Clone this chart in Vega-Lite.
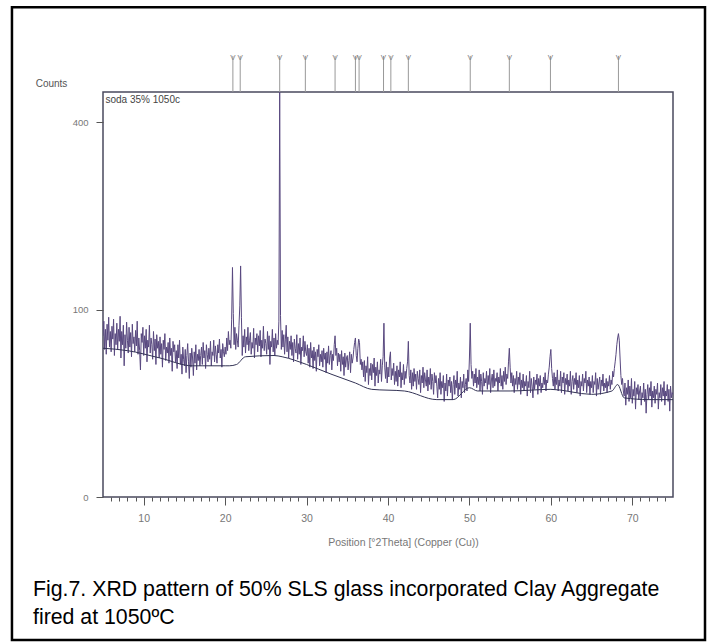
{
  "$schema": "https://vega.github.io/schema/vega-lite/v6.json",
  "width": 570,
  "height": 405,
  "autosize": "none",
  "padding": {"left": 103, "top": 92, "right": 34, "bottom": 145},
  "background": "white",
  "config": {
    "view": {"stroke": "#4a4a5e", "strokeWidth": 1.5},
    "axis": {"grid": false, "domain": false, "labelFont": "Liberation Sans", "titleFont": "Liberation Sans", "labelColor": "#777", "titleColor": "#777", "tickColor": "#555", "titleFontWeight": "normal"}
  },
  "title": {
    "text": ["Fig.7. XRD pattern of 50% SLS glass incorporated Clay Aggregate", "fired at 1050ºC"],
    "orient": "bottom", "anchor": "start", "frame": "group", "dx": -70, "offset": -62,
    "font": "Liberation Sans", "fontSize": 21.3, "fontWeight": "normal", "color": "black", "lineHeight": 28
  },
  "datasets": {
    "frame": [{"x1": -6.18, "x2": 78.93, "y1": -58.2, "y2": 683}],
    "markers": [{"t": 20.95}, {"t": 21.85}, {"t": 26.7}, {"t": 29.85}, {"t": 33.5}, {"t": 36.0}, {"t": 36.45}, {"t": 39.45}, {"t": 40.35}, {"t": 42.5}, {"t": 50.1}, {"t": 54.9}, {"t": 59.95}, {"t": 68.3}],
    "bg": [{"t":5,"c":63},{"t":8,"c":61},{"t":12,"c":55},{"t":16,"c":49},{"t":20,"c":49},{"t":20.5,"c":49},{"t":21.4,"c":50},{"t":22.5,"c":56},{"t":26,"c":57},{"t":27,"c":56},{"t":30,"c":50},{"t":33,"c":43},{"t":36,"c":37},{"t":38,"c":33},{"t":42,"c":32},{"t":46,"c":27},{"t":48,"c":27},{"t":50,"c":34},{"t":51,"c":32},{"t":55,"c":32},{"t":60,"c":33},{"t":65,"c":30},{"t":67.5,"c":32},{"t":68.2,"c":36},{"t":69,"c":28},{"t":72,"c":27},{"t":75,"c":27}],
    "scan": [
{"t":5.0,"c":74},{"t":5.1,"c":88},{"t":5.2,"c":62},{"t":5.3,"c":80},{"t":5.4,"c":58},{"t":5.5,"c":85},{"t":5.6,"c":70},{"t":5.7,"c":92},{"t":5.8,"c":64},{"t":5.9,"c":78},
{"t":6.0,"c":60},{"t":6.1,"c":83},{"t":6.2,"c":71},{"t":6.3,"c":90},{"t":6.4,"c":57},{"t":6.5,"c":76},{"t":6.6,"c":66},{"t":6.7,"c":86},{"t":6.8,"c":62},{"t":6.9,"c":80},
{"t":7.0,"c":69},{"t":7.1,"c":93},{"t":7.2,"c":55},{"t":7.3,"c":78},{"t":7.4,"c":66},{"t":7.5,"c":84},{"t":7.6,"c":49},{"t":7.7,"c":75},{"t":7.8,"c":63},{"t":7.9,"c":87},
{"t":8.0,"c":70},{"t":8.1,"c":59},{"t":8.2,"c":82},{"t":8.3,"c":64},{"t":8.4,"c":77},{"t":8.5,"c":56},{"t":8.6,"c":85},{"t":8.7,"c":67},{"t":8.8,"c":73},{"t":8.9,"c":60},
{"t":9.0,"c":79},{"t":9.1,"c":65},{"t":9.2,"c":88},{"t":9.3,"c":58},{"t":9.4,"c":72},{"t":9.5,"c":61},{"t":9.6,"c":46},{"t":9.7,"c":76},{"t":9.8,"c":68},{"t":9.9,"c":82},
{"t":10.0,"c":57},{"t":10.1,"c":74},{"t":10.2,"c":63},{"t":10.3,"c":80},{"t":10.4,"c":52},{"t":10.5,"c":70},{"t":10.6,"c":64},{"t":10.7,"c":84},{"t":10.8,"c":59},{"t":10.9,"c":72},
{"t":11.0,"c":66},{"t":11.1,"c":54},{"t":11.2,"c":78},{"t":11.3,"c":61},{"t":11.4,"c":71},{"t":11.5,"c":50},{"t":11.6,"c":75},{"t":11.7,"c":63},{"t":11.8,"c":69},{"t":11.9,"c":55},
{"t":12.0,"c":73},{"t":12.1,"c":58},{"t":12.2,"c":67},{"t":12.3,"c":48},{"t":12.4,"c":70},{"t":12.5,"c":62},{"t":12.6,"c":76},{"t":12.7,"c":53},{"t":12.8,"c":64},{"t":12.9,"c":59},
{"t":13.0,"c":68},{"t":13.1,"c":51},{"t":13.2,"c":72},{"t":13.3,"c":57},{"t":13.4,"c":63},{"t":13.5,"c":45},{"t":13.6,"c":69},{"t":13.7,"c":60},{"t":13.8,"c":66},{"t":13.9,"c":52},
{"t":14.0,"c":61},{"t":14.1,"c":47},{"t":14.2,"c":66},{"t":14.3,"c":55},{"t":14.4,"c":70},{"t":14.5,"c":50},{"t":14.6,"c":58},{"t":14.7,"c":43},{"t":14.8,"c":64},{"t":14.9,"c":54},
{"t":15.0,"c":49},{"t":15.1,"c":62},{"t":15.2,"c":44},{"t":15.3,"c":57},{"t":15.4,"c":67},{"t":15.5,"c":52},{"t":15.6,"c":40},{"t":15.7,"c":59},{"t":15.8,"c":48},{"t":15.9,"c":63},
{"t":16.0,"c":55},{"t":16.1,"c":42},{"t":16.2,"c":60},{"t":16.3,"c":51},{"t":16.4,"c":66},{"t":16.5,"c":46},{"t":16.6,"c":58},{"t":16.7,"c":53},{"t":16.8,"c":62},{"t":16.9,"c":49},
{"t":17.0,"c":57},{"t":17.1,"c":64},{"t":17.2,"c":50},{"t":17.3,"c":68},{"t":17.4,"c":55},{"t":17.5,"c":61},{"t":17.6,"c":47},{"t":17.7,"c":66},{"t":17.8,"c":58},{"t":17.9,"c":52},
{"t":18.0,"c":63},{"t":18.1,"c":54},{"t":18.2,"c":69},{"t":18.3,"c":49},{"t":18.4,"c":60},{"t":18.5,"c":57},{"t":18.6,"c":70},{"t":18.7,"c":52},{"t":18.8,"c":65},{"t":18.9,"c":58},
{"t":19.0,"c":51},{"t":19.1,"c":66},{"t":19.2,"c":59},{"t":19.3,"c":71},{"t":19.4,"c":55},{"t":19.5,"c":62},{"t":19.6,"c":48},{"t":19.7,"c":67},{"t":19.8,"c":60},{"t":19.9,"c":56},
{"t":20.0,"c":64},{"t":20.1,"c":58},{"t":20.2,"c":72},{"t":20.3,"c":61},{"t":20.4,"c":78},{"t":20.5,"c":66},{"t":20.6,"c":70},{"t":20.7,"c":63},{"t":20.8,"c":90},{"t":20.9,"c":150},
{"t":21.0,"c":96},{"t":21.1,"c":66},{"t":21.2,"c":82},{"t":21.3,"c":62},{"t":21.4,"c":76},{"t":21.5,"c":70},{"t":21.6,"c":64},{"t":21.7,"c":84},{"t":21.8,"c":104},{"t":21.9,"c":152},
{"t":22.0,"c":92},{"t":22.1,"c":57},{"t":22.2,"c":74},{"t":22.3,"c":64},{"t":22.4,"c":80},{"t":22.5,"c":59},{"t":22.6,"c":73},{"t":22.7,"c":66},{"t":22.8,"c":82},{"t":22.9,"c":61},
{"t":23.0,"c":70},{"t":23.1,"c":77},{"t":23.2,"c":58},{"t":23.3,"c":68},{"t":23.4,"c":63},{"t":23.5,"c":81},{"t":23.6,"c":55},{"t":23.7,"c":72},{"t":23.8,"c":66},{"t":23.9,"c":76},
{"t":24.0,"c":60},{"t":24.1,"c":74},{"t":24.2,"c":65},{"t":24.3,"c":79},{"t":24.4,"c":56},{"t":24.5,"c":70},{"t":24.6,"c":63},{"t":24.7,"c":83},{"t":24.8,"c":61},{"t":24.9,"c":71},
{"t":25.0,"c":67},{"t":25.1,"c":58},{"t":25.2,"c":78},{"t":25.3,"c":62},{"t":25.4,"c":74},{"t":25.5,"c":50},{"t":25.6,"c":69},{"t":25.7,"c":64},{"t":25.8,"c":80},{"t":25.9,"c":60},
{"t":26.0,"c":72},{"t":26.1,"c":57},{"t":26.2,"c":76},{"t":26.3,"c":63},{"t":26.4,"c":70},{"t":26.5,"c":66},{"t":26.6,"c":88},{"t":26.7,"c":470},{"t":26.8,"c":94},{"t":26.9,"c":62},
{"t":27.0,"c":79},{"t":27.1,"c":64},{"t":27.2,"c":75},{"t":27.3,"c":58},{"t":27.4,"c":71},{"t":27.5,"c":84},{"t":27.6,"c":60},{"t":27.7,"c":73},{"t":27.8,"c":55},{"t":27.9,"c":69},
{"t":28.0,"c":62},{"t":28.1,"c":74},{"t":28.2,"c":57},{"t":28.3,"c":68},{"t":28.4,"c":52},{"t":28.5,"c":71},{"t":28.6,"c":63},{"t":28.7,"c":59},{"t":28.8,"c":75},{"t":28.9,"c":54},
{"t":29.0,"c":67},{"t":29.1,"c":58},{"t":29.2,"c":72},{"t":29.3,"c":50},{"t":29.4,"c":64},{"t":29.5,"c":61},{"t":29.6,"c":74},{"t":29.7,"c":56},{"t":29.8,"c":69},{"t":29.9,"c":60},
{"t":30.0,"c":57},{"t":30.1,"c":66},{"t":30.2,"c":51},{"t":30.3,"c":63},{"t":30.4,"c":48},{"t":30.5,"c":68},{"t":30.6,"c":55},{"t":30.7,"c":61},{"t":30.8,"c":47},{"t":30.9,"c":64},
{"t":31.0,"c":53},{"t":31.1,"c":60},{"t":31.2,"c":45},{"t":31.3,"c":62},{"t":31.4,"c":56},{"t":31.5,"c":66},{"t":31.6,"c":49},{"t":31.7,"c":58},{"t":31.8,"c":52},{"t":31.9,"c":61},
{"t":32.0,"c":48},{"t":32.1,"c":63},{"t":32.2,"c":54},{"t":32.3,"c":59},{"t":32.4,"c":44},{"t":32.5,"c":60},{"t":32.6,"c":51},{"t":32.7,"c":65},{"t":32.8,"c":50},{"t":32.9,"c":57},
{"t":33.0,"c":61},{"t":33.1,"c":46},{"t":33.2,"c":58},{"t":33.3,"c":53},{"t":33.4,"c":66},{"t":33.5,"c":74},{"t":33.6,"c":57},{"t":33.7,"c":63},{"t":33.8,"c":49},{"t":33.9,"c":59},
{"t":34.0,"c":52},{"t":34.1,"c":58},{"t":34.2,"c":45},{"t":34.3,"c":61},{"t":34.4,"c":50},{"t":34.5,"c":56},{"t":34.6,"c":42},{"t":34.7,"c":59},{"t":34.8,"c":48},{"t":34.9,"c":55},
{"t":35.0,"c":57},{"t":35.1,"c":46},{"t":35.2,"c":53},{"t":35.3,"c":60},{"t":35.4,"c":44},{"t":35.5,"c":58},{"t":35.6,"c":51},{"t":35.7,"c":55},{"t":35.8,"c":62},{"t":35.9,"c":68},
{"t":36.0,"c":72},{"t":36.1,"c":57},{"t":36.2,"c":52},{"t":36.3,"c":63},{"t":36.4,"c":71},{"t":36.5,"c":68},{"t":36.6,"c":50},{"t":36.7,"c":54},{"t":36.8,"c":46},{"t":36.9,"c":52},
{"t":37.0,"c":41},{"t":37.1,"c":53},{"t":37.2,"c":38},{"t":37.3,"c":49},{"t":37.4,"c":44},{"t":37.5,"c":56},{"t":37.6,"c":36},{"t":37.7,"c":47},{"t":37.8,"c":42},{"t":37.9,"c":51},
{"t":38.0,"c":39},{"t":38.1,"c":50},{"t":38.2,"c":44},{"t":38.3,"c":55},{"t":38.4,"c":35},{"t":38.5,"c":48},{"t":38.6,"c":42},{"t":38.7,"c":52},{"t":38.8,"c":37},{"t":38.9,"c":46},
{"t":39.0,"c":43},{"t":39.1,"c":54},{"t":39.2,"c":38},{"t":39.3,"c":49},{"t":39.4,"c":56},{"t":39.5,"c":86},{"t":39.6,"c":48},{"t":39.7,"c":40},{"t":39.8,"c":52},{"t":39.9,"c":37},
{"t":40.0,"c":48},{"t":40.1,"c":41},{"t":40.2,"c":55},{"t":40.3,"c":60},{"t":40.4,"c":39},{"t":40.5,"c":47},{"t":40.6,"c":42},{"t":40.7,"c":51},{"t":40.8,"c":36},{"t":40.9,"c":45},
{"t":41.0,"c":38},{"t":41.1,"c":49},{"t":41.2,"c":35},{"t":41.3,"c":46},{"t":41.4,"c":41},{"t":41.5,"c":52},{"t":41.6,"c":34},{"t":41.7,"c":44},{"t":41.8,"c":39},{"t":41.9,"c":50},
{"t":42.0,"c":36},{"t":42.1,"c":45},{"t":42.2,"c":40},{"t":42.3,"c":47},{"t":42.4,"c":52},{"t":42.5,"c":69},{"t":42.6,"c":42},{"t":42.7,"c":37},{"t":42.8,"c":46},{"t":42.9,"c":33},
{"t":43.0,"c":44},{"t":43.1,"c":35},{"t":43.2,"c":47},{"t":43.3,"c":38},{"t":43.4,"c":43},{"t":43.5,"c":33},{"t":43.6,"c":45},{"t":43.7,"c":40},{"t":43.8,"c":36},{"t":43.9,"c":46},
{"t":44.0,"c":31},{"t":44.1,"c":42},{"t":44.2,"c":37},{"t":44.3,"c":48},{"t":44.4,"c":34},{"t":44.5,"c":44},{"t":44.6,"c":39},{"t":44.7,"c":35},{"t":44.8,"c":46},{"t":44.9,"c":32},
{"t":45.0,"c":41},{"t":45.1,"c":36},{"t":45.2,"c":47},{"t":45.3,"c":33},{"t":45.4,"c":43},{"t":45.5,"c":38},{"t":45.6,"c":30},{"t":45.7,"c":44},{"t":45.8,"c":37},{"t":45.9,"c":42},
{"t":46.0,"c":35},{"t":46.1,"c":28},{"t":46.2,"c":40},{"t":46.3,"c":33},{"t":46.4,"c":44},{"t":46.5,"c":30},{"t":46.6,"c":38},{"t":46.7,"c":34},{"t":46.8,"c":42},{"t":46.9,"c":26},
{"t":47.0,"c":37},{"t":47.1,"c":32},{"t":47.2,"c":43},{"t":47.3,"c":29},{"t":47.4,"c":39},{"t":47.5,"c":35},{"t":47.6,"c":41},{"t":47.7,"c":31},{"t":47.8,"c":38},{"t":47.9,"c":27},
{"t":48.0,"c":36},{"t":48.1,"c":42},{"t":48.2,"c":30},{"t":48.3,"c":39},{"t":48.4,"c":34},{"t":48.5,"c":45},{"t":48.6,"c":29},{"t":48.7,"c":37},{"t":48.8,"c":33},{"t":48.9,"c":41},
{"t":49.0,"c":28},{"t":49.1,"c":38},{"t":49.2,"c":34},{"t":49.3,"c":43},{"t":49.4,"c":31},{"t":49.5,"c":36},{"t":49.6,"c":40},{"t":49.7,"c":32},{"t":49.8,"c":46},{"t":49.9,"c":38},
{"t":50.0,"c":55},{"t":50.1,"c":86},{"t":50.2,"c":50},{"t":50.3,"c":40},{"t":50.4,"c":45},{"t":50.5,"c":35},{"t":50.6,"c":43},{"t":50.7,"c":37},{"t":50.8,"c":47},{"t":50.9,"c":34},
{"t":51.0,"c":41},{"t":51.1,"c":36},{"t":51.2,"c":46},{"t":51.3,"c":32},{"t":51.4,"c":43},{"t":51.5,"c":38},{"t":51.6,"c":30},{"t":51.7,"c":44},{"t":51.8,"c":35},{"t":51.9,"c":40},
{"t":52.0,"c":37},{"t":52.1,"c":45},{"t":52.2,"c":33},{"t":52.3,"c":42},{"t":52.4,"c":36},{"t":52.5,"c":47},{"t":52.6,"c":31},{"t":52.7,"c":39},{"t":52.8,"c":43},{"t":52.9,"c":34},
{"t":53.0,"c":46},{"t":53.1,"c":35},{"t":53.2,"c":40},{"t":53.3,"c":38},{"t":53.4,"c":44},{"t":53.5,"c":32},{"t":53.6,"c":41},{"t":53.7,"c":37},{"t":53.8,"c":47},{"t":53.9,"c":35},
{"t":54.0,"c":42},{"t":54.1,"c":33},{"t":54.2,"c":45},{"t":54.3,"c":38},{"t":54.4,"c":48},{"t":54.5,"c":36},{"t":54.6,"c":43},{"t":54.7,"c":40},{"t":54.8,"c":52},{"t":54.9,"c":63},
{"t":55.0,"c":48},{"t":55.1,"c":37},{"t":55.2,"c":44},{"t":55.3,"c":35},{"t":55.4,"c":42},{"t":55.5,"c":31},{"t":55.6,"c":40},{"t":55.7,"c":36},{"t":55.8,"c":45},{"t":55.9,"c":33},
{"t":56.0,"c":41},{"t":56.1,"c":36},{"t":56.2,"c":44},{"t":56.3,"c":30},{"t":56.4,"c":39},{"t":56.5,"c":34},{"t":56.6,"c":43},{"t":56.7,"c":32},{"t":56.8,"c":38},{"t":56.9,"c":35},
{"t":57.0,"c":42},{"t":57.1,"c":29},{"t":57.2,"c":38},{"t":57.3,"c":34},{"t":57.4,"c":45},{"t":57.5,"c":31},{"t":57.6,"c":40},{"t":57.7,"c":35},{"t":57.8,"c":28},{"t":57.9,"c":41},
{"t":58.0,"c":33},{"t":58.1,"c":39},{"t":58.2,"c":36},{"t":58.3,"c":43},{"t":58.4,"c":30},{"t":58.5,"c":40},{"t":58.6,"c":35},{"t":58.7,"c":42},{"t":58.8,"c":31},{"t":58.9,"c":37},
{"t":59.0,"c":34},{"t":59.1,"c":41},{"t":59.2,"c":36},{"t":59.3,"c":44},{"t":59.4,"c":32},{"t":59.5,"c":39},{"t":59.6,"c":37},{"t":59.7,"c":43},{"t":59.8,"c":48},{"t":59.9,"c":56},
{"t":60.0,"c":62},{"t":60.1,"c":47},{"t":60.2,"c":40},{"t":60.3,"c":35},{"t":60.4,"c":44},{"t":60.5,"c":33},{"t":60.6,"c":41},{"t":60.7,"c":36},{"t":60.8,"c":46},{"t":60.9,"c":32},
{"t":61.0,"c":39},{"t":61.1,"c":35},{"t":61.2,"c":45},{"t":61.3,"c":31},{"t":61.4,"c":41},{"t":61.5,"c":37},{"t":61.6,"c":44},{"t":61.7,"c":30},{"t":61.8,"c":40},{"t":61.9,"c":36},
{"t":62.0,"c":43},{"t":62.1,"c":32},{"t":62.2,"c":39},{"t":62.3,"c":35},{"t":62.4,"c":45},{"t":62.5,"c":30},{"t":62.6,"c":38},{"t":62.7,"c":42},{"t":62.8,"c":33},{"t":62.9,"c":40},
{"t":63.0,"c":36},{"t":63.1,"c":44},{"t":63.2,"c":31},{"t":63.3,"c":39},{"t":63.4,"c":34},{"t":63.5,"c":42},{"t":63.6,"c":29},{"t":63.7,"c":38},{"t":63.8,"c":35},{"t":63.9,"c":43},
{"t":64.0,"c":32},{"t":64.1,"c":40},{"t":64.2,"c":37},{"t":64.3,"c":45},{"t":64.4,"c":31},{"t":64.5,"c":39},{"t":64.6,"c":35},{"t":64.7,"c":41},{"t":64.8,"c":30},{"t":64.9,"c":38},
{"t":65.0,"c":34},{"t":65.1,"c":42},{"t":65.2,"c":31},{"t":65.3,"c":38},{"t":65.4,"c":36},{"t":65.5,"c":44},{"t":65.6,"c":29},{"t":65.7,"c":40},{"t":65.8,"c":33},{"t":65.9,"c":37},
{"t":66.0,"c":41},{"t":66.1,"c":30},{"t":66.2,"c":39},{"t":66.3,"c":35},{"t":66.4,"c":43},{"t":66.5,"c":32},{"t":66.6,"c":37},{"t":66.7,"c":34},{"t":66.8,"c":40},{"t":66.9,"c":31},
{"t":67.0,"c":38},{"t":67.1,"c":35},{"t":67.2,"c":42},{"t":67.3,"c":33},{"t":67.4,"c":39},{"t":67.5,"c":36},{"t":67.6,"c":45},{"t":67.7,"c":41},{"t":67.8,"c":47},{"t":67.9,"c":52},
{"t":68.0,"c":58},{"t":68.1,"c":66},{"t":68.2,"c":72},{"t":68.3,"c":76},{"t":68.4,"c":70},{"t":68.5,"c":55},{"t":68.6,"c":42},{"t":68.7,"c":36},{"t":68.8,"c":40},{"t":68.9,"c":32},
{"t":69.0,"c":29},{"t":69.1,"c":37},{"t":69.2,"c":24},{"t":69.3,"c":34},{"t":69.4,"c":30},{"t":69.5,"c":39},{"t":69.6,"c":26},{"t":69.7,"c":35},{"t":69.8,"c":28},{"t":69.9,"c":40},
{"t":70.0,"c":25},{"t":70.1,"c":33},{"t":70.2,"c":29},{"t":70.3,"c":38},{"t":70.4,"c":22},{"t":70.5,"c":34},{"t":70.6,"c":30},{"t":70.7,"c":36},{"t":70.8,"c":27},{"t":70.9,"c":32},
{"t":71.0,"c":35},{"t":71.1,"c":24},{"t":71.2,"c":31},{"t":71.3,"c":28},{"t":71.4,"c":37},{"t":71.5,"c":26},{"t":71.6,"c":33},{"t":71.7,"c":20},{"t":71.8,"c":30},{"t":71.9,"c":36},
{"t":72.0,"c":27},{"t":72.1,"c":34},{"t":72.2,"c":29},{"t":72.3,"c":38},{"t":72.4,"c":23},{"t":72.5,"c":32},{"t":72.6,"c":28},{"t":72.7,"c":35},{"t":72.8,"c":25},{"t":72.9,"c":33},
{"t":73.0,"c":30},{"t":73.1,"c":37},{"t":73.2,"c":22},{"t":73.3,"c":31},{"t":73.4,"c":28},{"t":73.5,"c":36},{"t":73.6,"c":26},{"t":73.7,"c":34},{"t":73.8,"c":29},{"t":73.9,"c":38},
{"t":74.0,"c":24},{"t":74.1,"c":32},{"t":74.2,"c":29},{"t":74.3,"c":36},{"t":74.4,"c":26},{"t":74.5,"c":33},{"t":74.6,"c":21},{"t":74.7,"c":35},{"t":74.8,"c":28},{"t":74.9,"c":31},
{"t":75.0,"c":30}
    ]
  },
  "layer": [
    {
      "data": {"name": "frame"},
      "mark": {"type": "rect", "fillOpacity": 0, "stroke": "black", "strokeWidth": 2.5, "clip": false},
      "encoding": {
        "x": {"field": "x1", "type": "quantitative", "scale": {"domain": [5, 75], "nice": false, "zero": false}},
        "x2": {"field": "x2"},
        "y": {"field": "y1", "type": "quantitative", "scale": {"type": "sqrt", "domain": [0, 467], "nice": false}},
        "y2": {"field": "y2"}
      }
    },
    {
      "data": {"name": "scan"},
      "mark": {"type": "line", "color": "#58487f", "strokeWidth": 1, "clip": true},
      "encoding": {
        "x": {"field": "t", "type": "quantitative", "scale": {"domain": [5, 75], "nice": false, "zero": false},
          "axis": {"values": [6,7,8,9,10,11,12,13,14,15,16,17,18,19,20,21,22,23,24,25,26,27,28,29,30,31,32,33,34,35,36,37,38,39,40,41,42,43,44,45,46,47,48,49,50,51,52,53,54,55,56,57,58,59,60,61,62,63,64,65,66,67,68,69,70,71,72,73,74],
            "tickCount": 200, "format": "d",
            "labelExpr": "datum.value % 10 === 0 ? datum.label : ''", "labelOverlap": false,
            "tickSize": {"condition": {"test": "datum.value % 10 === 0", "value": 8}, "value": 4},
            "labelFontSize": 10.5, "labelPadding": 8, "title": "Position [°2Theta] (Copper (Cu))", "titleFontSize": 10.5, "titlePadding": 14, "titleX": 300, "titleAlign": "center"}},
        "y": {"field": "c", "type": "quantitative", "scale": {"type": "sqrt", "domain": [0, 467], "nice": false},
          "axis": {"values": [0, 100, 400], "tickSize": 7, "labelFontSize": 9.5, "labelPadding": 8,
            "title": "Counts", "titleAngle": 0, "titleAlign": "center", "titleBaseline": "middle", "titleX": -52, "titleY": -9, "titleFontSize": 10, "titleColor": "#555"}}
      }
    },
    {
      "data": {"name": "bg"},
      "mark": {"type": "line", "color": "#333355", "strokeWidth": 1, "interpolate": "monotone"},
      "encoding": {
        "x": {"field": "t", "type": "quantitative"},
        "y": {"field": "c", "type": "quantitative"}
      }
    },
    {
      "data": {"name": "markers"},
      "mark": {"type": "rule", "color": "#999", "strokeWidth": 1, "clip": false},
      "encoding": {
        "x": {"field": "t", "type": "quantitative"},
        "y": {"datum": 467, "type": "quantitative"},
        "y2": {"datum": 554}
      }
    },
    {
      "data": {"name": "markers"},
      "mark": {"type": "text", "text": "V", "color": "#888", "fontSize": 8, "font": "Liberation Sans", "baseline": "alphabetic", "clip": false},
      "encoding": {
        "x": {"field": "t", "type": "quantitative"},
        "y": {"datum": 544, "type": "quantitative"}
      }
    },
    {
      "data": {"values": [{"label": "soda 35% 1050c", "t": 5.3, "c": 467}]},
      "mark": {"type": "text", "align": "left", "baseline": "top", "dy": 3, "fontSize": 10, "font": "Liberation Sans", "color": "#444"},
      "encoding": {
        "x": {"field": "t", "type": "quantitative"},
        "y": {"field": "c", "type": "quantitative"},
        "text": {"field": "label"}
      }
    }
  ]
}
